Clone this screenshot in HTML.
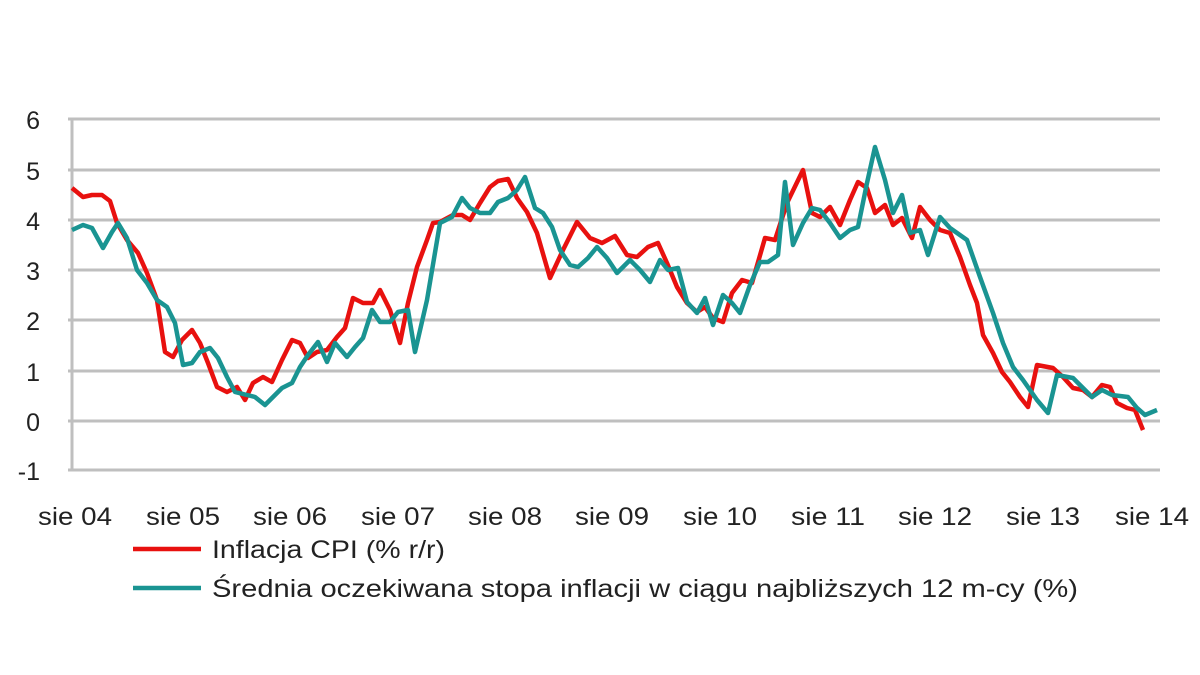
<!DOCTYPE html>
<html><head><meta charset="utf-8"><style>
body{margin:0;background:#fff;}
svg{display:block;font-family:"Liberation Sans",sans-serif;}
</style></head><body>
<svg width="1200" height="675" viewBox="0 0 1200 675">
<g stroke="#bfbfbf" stroke-width="3">
<line x1="68" y1="119" x2="1160" y2="119"/>
<line x1="68" y1="170" x2="1160" y2="170"/>
<line x1="68" y1="220" x2="1160" y2="220"/>
<line x1="68" y1="270" x2="1160" y2="270"/>
<line x1="68" y1="320" x2="1160" y2="320"/>
<line x1="68" y1="371" x2="1160" y2="371"/>
<line x1="68" y1="421" x2="1160" y2="421"/>
<line x1="68" y1="470" x2="1160" y2="470"/>
<line x1="72" y1="119" x2="72" y2="471"/>
</g>
<g font-size="25" fill="#222" text-anchor="end">
<text x="40" y="129">6</text><text x="40" y="180">5</text><text x="40" y="230">4</text>
<text x="40" y="280">3</text><text x="40" y="330">2</text><text x="40" y="381">1</text>
<text x="40" y="431">0</text><text x="40" y="480">-1</text>
</g>
<g font-size="25" fill="#222" text-anchor="middle">
<text x="75" y="525" textLength="74" lengthAdjust="spacingAndGlyphs">sie 04</text>
<text x="183" y="525" textLength="74" lengthAdjust="spacingAndGlyphs">sie 05</text>
<text x="290" y="525" textLength="74" lengthAdjust="spacingAndGlyphs">sie 06</text>
<text x="398" y="525" textLength="74" lengthAdjust="spacingAndGlyphs">sie 07</text>
<text x="505" y="525" textLength="74" lengthAdjust="spacingAndGlyphs">sie 08</text>
<text x="612" y="525" textLength="74" lengthAdjust="spacingAndGlyphs">sie 09</text>
<text x="720" y="525" textLength="74" lengthAdjust="spacingAndGlyphs">sie 10</text>
<text x="828" y="525" textLength="74" lengthAdjust="spacingAndGlyphs">sie 11</text>
<text x="935" y="525" textLength="74" lengthAdjust="spacingAndGlyphs">sie 12</text>
<text x="1043" y="525" textLength="74" lengthAdjust="spacingAndGlyphs">sie 13</text>
<text x="1152" y="525" textLength="74" lengthAdjust="spacingAndGlyphs">sie 14</text>
</g>
<polyline fill="none" stroke="#e8110f" stroke-width="4.5" stroke-linejoin="round" points="72,188 83,197 92,195 102,195 110,201 117,223 127,240 138,253 147,273 157,300 165,352 173,357 182,340 192,330 200,343 208,363 217,387 227,392 237,387 245,400 253,383 263,377 272,382 282,360 292,340 300,343 308,358 317,352 327,350 337,337 345,328 353,298 363,303 373,303 380,290 390,310 400,343 408,303 417,267 427,240 433,223 440,222 453,215 462,215 470,220 480,203 490,187 498,181 508,179 517,198 527,212 537,233 550,278 563,250 577,222 590,238 602,243 615,236 627,255 637,257 648,247 658,243 667,263 677,287 687,303 697,312 705,307 713,318 723,322 732,293 742,280 752,283 765,238 775,240 787,203 803,170 812,213 820,217 830,207 840,225 850,200 858,182 867,188 875,213 885,205 893,225 902,218 912,238 920,207 930,220 940,230 950,233 960,257 970,285 977,303 983,335 993,353 1002,372 1010,382 1020,397 1028,407 1037,365 1053,368 1063,377 1073,388 1083,390 1092,397 1102,385 1110,387 1117,403 1127,408 1135,410 1143,430"/>
<polyline fill="none" stroke="#1a9492" stroke-width="4.5" stroke-linejoin="round" points="72,230 83,225 92,228 103,248 112,232 118,223 127,238 137,270 147,283 157,300 167,307 175,323 183,365 192,363 200,352 210,348 218,358 227,377 235,392 247,395 255,397 265,405 273,397 282,388 292,383 300,367 308,355 318,342 327,362 335,343 347,357 355,347 363,338 372,310 380,322 390,322 398,312 408,310 415,352 427,300 440,223 452,217 462,198 470,208 480,213 490,213 498,202 508,198 517,190 525,177 535,208 543,213 552,227 560,250 570,265 578,267 588,258 597,247 607,258 617,273 630,260 640,270 650,282 660,260 668,270 678,268 687,302 697,313 705,298 713,325 723,295 732,303 740,313 750,285 760,262 768,262 778,255 785,182 793,245 803,223 812,208 820,210 830,223 840,238 850,230 858,227 867,183 875,147 885,180 893,213 902,195 910,233 920,230 928,255 940,217 950,228 967,240 980,277 993,313 1003,343 1013,367 1023,380 1037,400 1048,413 1057,375 1073,378 1082,387 1092,397 1102,390 1112,395 1128,397 1137,408 1145,415 1157,410"/>
<line x1="133" y1="549" x2="201" y2="549" stroke="#e8110f" stroke-width="4.5"/>
<line x1="133" y1="588" x2="201" y2="588" stroke="#1a9492" stroke-width="4.5"/>
<g font-size="25" fill="#222">
<text x="212" y="558" textLength="233" lengthAdjust="spacingAndGlyphs">Inflacja CPI (% r/r)</text>
<text x="212" y="597" textLength="866" lengthAdjust="spacingAndGlyphs">Średnia oczekiwana stopa inflacji w ciągu najbliższych 12 m-cy (%)</text>
</g>
</svg>
</body></html>
